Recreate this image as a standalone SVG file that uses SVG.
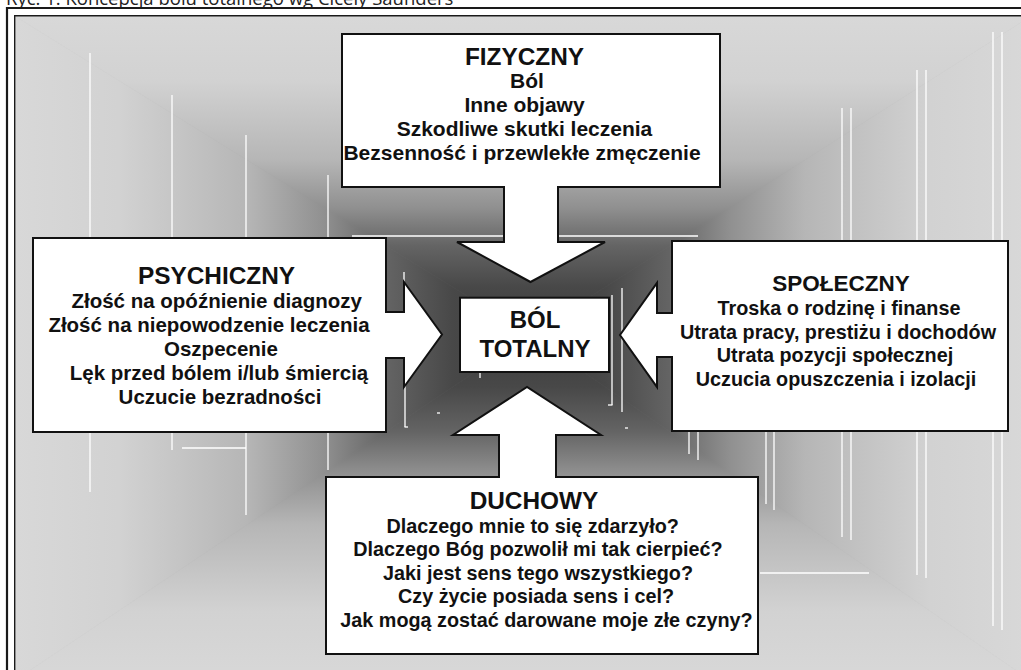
<svg xmlns="http://www.w3.org/2000/svg" width="1021" height="670" viewBox="0 0 1021 670">
<defs>
<linearGradient id="gT" gradientUnits="userSpaceOnUse" x1="0" y1="16.5" x2="0" y2="335">
<stop offset="0" stop-color="#d8d8d8"/><stop offset="0.2" stop-color="#d2d2d2"/><stop offset="0.45" stop-color="#b6b6b6"/><stop offset="0.6" stop-color="#909090"/><stop offset="0.72" stop-color="#646464"/><stop offset="0.85" stop-color="#484848"/><stop offset="1" stop-color="#3c3c3c"/>
</linearGradient>
<linearGradient id="gB" href="#gT" x1="0" y1="680" x2="0" y2="335"/>
<linearGradient id="gL" href="#gT" x1="15.5" y1="0" x2="530" y2="0"/>
<linearGradient id="gR" href="#gT" x1="1030" y1="0" x2="530" y2="0"/>
<clipPath id="vp"><rect x="15.5" y="16.5" width="1005.5" height="653.5"/></clipPath>
</defs>
<style>
.shape{fill:#ffffff;stroke:#111111;stroke-width:2;stroke-linejoin:miter}
.t{font-family:"Liberation Sans",Arial,sans-serif;font-weight:bold;fill:#111111;text-anchor:middle}
.h{font-size:24.4px}
.b{font-size:21px}
.bp{font-size:20.5px}
.bs{font-size:19.8px}
.hs{font-size:22.5px}
.c{font-size:24px}
.wl{stroke:#ffffff;stroke-width:1.3;fill:none}
.frame{fill:none;stroke:#1a1a1a}
</style>
<rect width="1021" height="670" fill="#ffffff"/>
<text x="6" y="4.5" font-family="'Open Sans','Noto Sans',sans-serif" font-size="18.5" fill="#222222">Ryc. 1. Koncepcja bólu totalnego wg Cicely Saunders</text>
<g id="background" clip-path="url(#vp)">
<rect x="15.5" y="16.5" width="1005.5" height="653.5" fill="#909090"/>
<polygon points="15.5,16.5 1030,16.5 530,335" fill="url(#gT)" stroke="url(#gT)" stroke-width="0.7"/>
<polygon points="15.5,680 1030,680 530,335" fill="url(#gB)" stroke="url(#gB)" stroke-width="0.7"/>
<polygon points="15.5,16.5 15.5,680 530,335" fill="url(#gL)" stroke="url(#gL)" stroke-width="0.7"/>
<polygon points="1030,16.5 1030,680 530,335" fill="url(#gR)" stroke="url(#gR)" stroke-width="0.7"/>
</g>
<g id="frame">
<polyline class="frame" points="7,670 7,8 1021,8" stroke-width="2.2"/>
<polyline class="frame" points="14.7,670 14.7,15.7 1021,15.7" stroke-width="1.4"/>
</g>
<g id="white-lines">
<line class="wl" x1="90" y1="53" x2="90" y2="492"/>
<line class="wl" x1="172" y1="95" x2="172" y2="450"/>
<line class="wl" x1="246" y1="135" x2="246" y2="515"/>
<line class="wl" x1="328" y1="175" x2="328" y2="470"/>
<line class="wl" x1="182" y1="448" x2="246" y2="448"/>
<line class="wl" x1="352" y1="236" x2="698" y2="236"/>
<line class="wl" x1="404" y1="272" x2="404" y2="300"/>
<line class="wl" x1="405" y1="380" x2="405" y2="427"/>
<line class="wl" x1="404.5" y1="427" x2="408" y2="427"/>
<line class="wl" x1="612" y1="295" x2="612" y2="405"/>
<line class="wl" x1="608" y1="405" x2="612.5" y2="405"/>
<line class="wl" x1="622" y1="288" x2="622" y2="412"/>
<line class="wl" x1="480" y1="372" x2="480" y2="378"/>
<line class="wl" x1="437" y1="413" x2="440" y2="413"/>
<line class="wl" x1="625" y1="428" x2="628" y2="428"/>
<line class="wl" x1="689" y1="431" x2="689" y2="454"/>
<line class="wl" x1="698" y1="431" x2="698" y2="460"/>
<line class="wl" x1="766" y1="431" x2="766" y2="504"/>
<line class="wl" x1="774" y1="431" x2="774" y2="510"/>
<line class="wl" x1="760" y1="573" x2="869" y2="573"/>
<line class="wl" x1="842" y1="108" x2="842" y2="537"/>
<line class="wl" x1="851" y1="108" x2="851" y2="540"/>
<line class="wl" x1="917" y1="70" x2="917" y2="575"/>
<line class="wl" x1="926" y1="70" x2="926" y2="578"/>
<line class="wl" x1="993" y1="32" x2="993" y2="626"/>
<line class="wl" x1="1002" y1="32" x2="1002" y2="630"/>
</g>
<g id="fizyczny">
<path class="shape" d="M342,34 H720 V187 H558 V242 H605 L530.5,282 L457,242 H504 V187 H342 Z"/>
<text class="t h" x="524.5" y="65">FIZYCZNY</text>
<text class="t b" x="527" y="88">Ból</text>
<text class="t b" x="524.5" y="112">Inne objawy</text>
<text class="t b" x="524.5" y="136">Szkodliwe skutki leczenia</text>
<text class="t b" x="522" y="160">Bezsenność i przewlekłe zmęczenie</text>
</g>
<g id="psychiczny">
<path class="shape" d="M33,238 H386 V312 H404 V282 L442,334.5 L404,387 V358 H386 V432 H33 Z"/>
<text class="t h" x="216.5" y="283.5">PSYCHICZNY</text>
<text class="t bp" x="216.7" y="307.5">Złość na opóźnienie diagnozy</text>
<text class="t bp" x="209" y="331.5">Złość na niepowodzenie leczenia</text>
<text class="t bp" x="221" y="355.5">Oszpecenie</text>
<text class="t bp" x="219" y="379.5">Lęk przed bólem i/lub śmiercią</text>
<text class="t bp" x="220" y="403.5">Uczucie bezradności</text>
</g>
<g id="spoleczny">
<path class="shape" d="M672,241 H1008 V431 H672 V357 H657 V387 L620,335 L657,283 V313 H672 Z"/>
<text class="t hs" x="841" y="291">SPOŁECZNY</text>
<text class="t bs" x="839" y="314.5">Troska o rodzinę i finanse</text>
<text class="t bs" x="838" y="338.5">Utrata pracy, prestiżu i dochodów</text>
<text class="t bs" x="835" y="362">Utrata pozycji społecznej</text>
<text class="t bs" x="836" y="386">Uczucia opuszczenia i izolacji</text>
</g>
<g id="duchowy">
<path class="shape" d="M326,477 H499 V435 H453 L527,387 L601,435 H556 V477 H758 V654 H326 Z"/>
<text class="t h" x="534" y="509.3">DUCHOWY</text>
<text class="t bs" x="532.7" y="532.7">Dlaczego mnie to się zdarzyło?</text>
<text class="t bs" x="538" y="556">Dlaczego Bóg pozwolił mi tak cierpieć?</text>
<text class="t bs" x="538" y="580">Jaki jest sens tego wszystkiego?</text>
<text class="t bs" x="536" y="602.7">Czy życie posiada sens i cel?</text>
<text class="t bs" x="546.5" y="627">Jak mogą zostać darowane moje złe czyny?</text>
</g>
<g id="bol-totalny">
<rect class="shape" x="460" y="297.7" width="149" height="74.3"/>
<text class="t c" x="535" y="328">BÓL</text>
<text class="t c" x="535" y="357">TOTALNY</text>
</g>
</svg>
